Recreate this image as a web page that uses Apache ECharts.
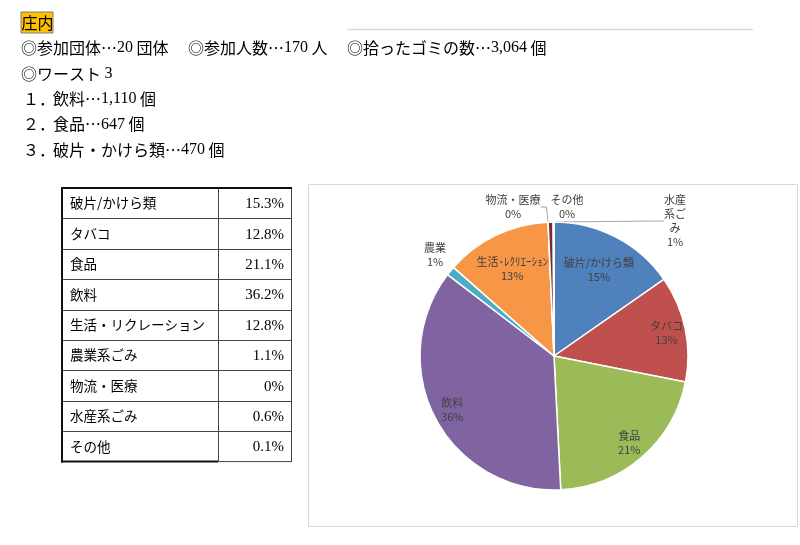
<!DOCTYPE html>
<html><head><meta charset="utf-8">
<script src="https://cdn.jsdelivr.net/npm/echarts@6/dist/echarts.min.js"></script>
<style>html,body{margin:0;padding:0;background:#fff}#c{width:800px;height:545px}</style>
</head><body><div id="c"></div>
<script>
// ---- data ----
const heading = '庄内';
const statItems = ['◎参加団体…20 団体', '◎参加人数…170 人', '◎拾ったゴミの数…3,064 個'];
const worstHeader = '◎ワースト 3';
const worstRanks = ['１．', '２．', '３．'];
const worstItems = ['飲料…1,110 個', '食品…647 個', '破片・かけら類…470 個'];
const tableNames = ['破片/かけら類', 'タバコ', '食品', '飲料', '生活・リクレーション', '農業系ごみ', '物流・医療', '水産系ごみ', 'その他'];
const tableValues = ['15.3%', '12.8%', '21.1%', '36.2%', '12.8%', '1.1%', '0%', '0.6%', '0.1%'];
const pieNames = ['破片/かけら類', 'タバコ', '食品', '飲料', '農業', '生活･ﾚｸﾘｴｰｼｮﾝ', '物流・医療', '水産系ごみ', 'その他'];
const pieValues = [15.3, 12.8, 21.1, 36.2, 1.1, 12.8, 0, 0.6, 0.1];

// ---- styles / layout ----
const pieColors = ['#4F81BD', '#C0504D', '#9BBB59', '#8064A2', '#4BACC6', '#F79646', '#2C4D75', '#772C2A', '#5F7530'];
const CJK = "'Noto Sans CJK JP'";
const SERIF = "'Liberation Serif'";
const PIE_CENTER = [554, 356];
const PIE_R = 134;
const innerRingA = [0, 5];      // labels closer to centre
const innerRingB = [1, 2, 3];   // labels further out
const outsideLabels = { 4: [435, 255, false], 6: [513, 207, true], 7: [675, 221, true], 8: [567, 207, true] };
const wrapWidth = { 7: 24 };

function toRich(s) {
  return s.split(/([0-9][0-9,.%]*)/).filter(t => t.length).map(t => (/^[0-9]/.test(t) ? '{n|' + t + '}' : '{c|' + t + '}')).join('');
}
const richBody = { n: { fontFamily: SERIF, fontSize: 16, fill: '#000' }, c: { fontFamily: CJK, fontSize: 16, fill: '#000' } };
function bodyText(s, x, y) {
  return { type: 'text', x: x, y: y, style: { text: toRich(s), rich: richBody, verticalAlign: 'middle', fill: '#000' } };
}

const graphics = [];
// heading
graphics.push({ type: 'rect', shape: { x: 21, y: 12, width: 32, height: 21 }, style: { fill: '#FFC000', stroke: '#7f7f7f', lineWidth: 1 } });
graphics.push({ type: 'text', x: 21.5, y: 23, style: { text: heading, font: '16px ' + CJK, fill: '#000', verticalAlign: 'middle' } });
graphics.push({ type: 'line', shape: { x1: 347, y1: 29.5, x2: 753, y2: 29.5 }, style: { stroke: '#d9d9d9', lineWidth: 1.5 } });
const statX = [21, 188, 347];
statItems.forEach((s, i) => graphics.push(bodyText(s, statX[i], 48)));
graphics.push(bodyText(worstHeader, 21, 74));
worstItems.forEach((s, i) => {
  graphics.push({ type: 'text', x: 23, y: 99 + i * 25.3, style: { text: worstRanks[i], font: '16px ' + CJK, fill: '#000', verticalAlign: 'middle' } });
  graphics.push(bodyText(s, 53, 99 + i * 25.3));
});

// table
const T = { top: 188, rowH: 30.4, left: 62, mid: 218, right: 291 };
const tBottom = T.top + T.rowH * tableNames.length;
tableNames.forEach((name, i) => {
  const cy = T.top + T.rowH * (i + 0.5);
  graphics.push({ type: 'text', x: 70, y: cy, style: { text: name, font: '13.5px ' + CJK, fill: '#000', verticalAlign: 'middle' } });
  graphics.push({ type: 'text', x: 284, y: cy + 1, style: { text: tableValues[i], font: '15px ' + SERIF, fill: '#000', verticalAlign: 'middle', align: 'right' } });
  if (i > 0) {
    const ly = Math.round(T.top + T.rowH * i) + 0.5;
    graphics.push({ type: 'line', shape: { x1: T.left, y1: ly, x2: T.right, y2: ly }, style: { stroke: '#444', lineWidth: 1 } });
  }
});
graphics.push({ type: 'line', shape: { x1: T.mid + 0.5, y1: T.top, x2: T.mid + 0.5, y2: tBottom }, style: { stroke: '#444', lineWidth: 1 } });
graphics.push({ type: 'line', shape: { x1: T.right + 0.5, y1: T.top, x2: T.right + 0.5, y2: tBottom }, style: { stroke: '#444', lineWidth: 1 } });
graphics.push({ type: 'line', shape: { x1: T.mid, y1: tBottom, x2: T.right + 1, y2: tBottom }, style: { stroke: '#444', lineWidth: 1 } });
graphics.push({ type: 'line', shape: { x1: T.left, y1: T.top, x2: T.right + 1, y2: T.top }, style: { stroke: '#111', lineWidth: 2 } });
graphics.push({ type: 'line', shape: { x1: T.left, y1: T.top - 1, x2: T.left, y2: tBottom + 1 }, style: { stroke: '#111', lineWidth: 2 } });
graphics.push({ type: 'line', shape: { x1: T.left - 1, y1: tBottom, x2: T.mid, y2: tBottom }, style: { stroke: '#111', lineWidth: 2 } });

// chart frame
graphics.push({ type: 'rect', z: -1, shape: { x: 308.5, y: 184.5, width: 489, height: 342 }, style: { fill: '#fff', stroke: '#d9d9d9', lineWidth: 1 } });

const labelFont = { fontFamily: CJK, fontSize: 11, color: '#404040', lineHeight: 14 };
function pctFmt(p) {
  let name = p.name;
  const w = wrapWidth[p.dataIndex];
  if (w) {
    const per = Math.floor(w / 11);
    const parts = [];
    for (let k = 0; k < name.length; k += per) parts.push(name.slice(k, k + per));
    name = parts.join('\n');
  }
  return name + '\n' + Math.round(p.percent) + '%';
}

const mainData = pieNames.map((n, i) => {
  const o = outsideLabels[i];
  const item = { name: n, value: pieValues[i], itemStyle: { color: pieColors[i] } };
  if (o) {
    item.label = { show: true, position: 'outside' };
    item.labelLine = { show: o[2], length: 6, length2: 6, smooth: false, lineStyle: { color: '#a6a6a6', width: 1 } };
  }
  return item;
});

function overlay(radius, idxs) {
  return {
    type: 'pie', center: PIE_CENTER, radius: radius, startAngle: 90, clockwise: true, silent: true, z: 5,
    avoidLabelOverlap: false, animation: false,
    itemStyle: { color: 'rgba(0,0,0,0)', borderWidth: 0 },
    emphasis: { disabled: true },
    labelLine: { show: false },
    label: Object.assign({ show: false, position: 'inside', formatter: pctFmt, align: 'center' }, labelFont),
    data: pieNames.map((n, i) => ({ name: n, value: pieValues[i], label: { show: idxs.includes(i) } }))
  };
}

const option = {
  backgroundColor: '#fff',
  animation: false,
  graphic: graphics,
  series: [
    {
      type: 'pie', center: PIE_CENTER, radius: PIE_R, startAngle: 90, clockwise: true,
      avoidLabelOverlap: false, animation: false,
      itemStyle: { borderColor: '#fff', borderWidth: 1.5 },
      emphasis: { disabled: true },
      label: Object.assign({ show: false, formatter: pctFmt, align: 'center' }, labelFont),
      labelLine: { show: false },
      labelLayout: function (p) {
        const o = outsideLabels[p.dataIndex];
        if (!o) return {};
        return { x: o[0], y: o[1], align: 'center', verticalAlign: 'middle' };
      },
      data: mainData
    },
    overlay([54, PIE_R], innerRingA),
    overlay([90, PIE_R], innerRingB)
  ]
};
const chart = echarts.init(document.getElementById('c'), null, { renderer: 'canvas' });
chart.setOption(option);
</script></body></html>
